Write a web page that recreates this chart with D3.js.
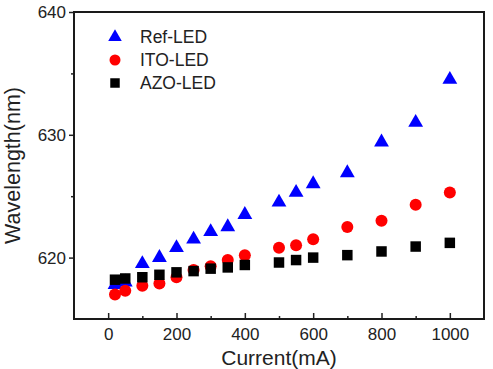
<!DOCTYPE html>
<html>
<head>
<meta charset="utf-8">
<script src="https://cdn.jsdelivr.net/npm/d3@7"></script>
<style>
  body { margin: 0; background: #fff; }
  text { font-family: "Liberation Sans", Arial, sans-serif; fill: #222; }
</style>
</head>
<body>
<svg id="canvas" width="493" height="369"></svg>
<script>
let current = [20, 50, 100, 150, 200, 250, 300, 350, 400, 500, 550, 600, 700, 800, 900, 1000]
let refLED = [617.8, 618.0, 619.5, 620.0, 620.8, 621.5, 622.1, 622.5, 623.5, 624.5, 625.3, 626.0, 626.9, 629.4, 631.0, 634.5]
let itoLED = [617.0, 617.3, 617.7, 617.9, 618.4, 619.0, 619.3, 619.8, 620.2, 620.8, 621.0, 621.5, 622.5, 623.0, 624.3, 625.3]
let azoLED = [618.2, 618.3, 618.4, 618.6, 618.8, 618.9, 619.1, 619.2, 619.4, 619.6, 619.8, 620.0, 620.2, 620.5, 620.9, 621.2]
let xTicks = [0, 200, 400, 600, 800, 1000]
let xMinor = [100, 300, 500, 700, 900]
let yTicks = [620, 630, 640]
let yMinor = [625, 635]
let seriesNames = ['Ref-LED', 'ITO-LED', 'AZO-LED']

let canvas = d3.select('#canvas')
let margin = { top: 12, right: 9, bottom: 50, left: 74 },
  width = 493 - margin.left - margin.right,
  height = 369 - margin.top - margin.bottom

let x = d3.scaleLinear().domain([-100, 1100]).range([0, width])
let y = d3.scaleLinear().domain([615, 640]).range([height, 0])

let g = canvas.append('g').attr('transform', 'translate(' + margin.left + ',' + margin.top + ')')

// x axis (ticks inward)
let xAxis = g.append('g').attr('transform', 'translate(0,' + height + ')')
  .call(d3.axisBottom(x).tickValues(xTicks).tickFormat(d3.format('d')).tickSizeInner(-6).tickSizeOuter(0).tickPadding(9))
xAxis.select('.domain').remove()
g.append('g').attr('transform', 'translate(0,' + height + ')')
  .call(d3.axisBottom(x).tickValues(xMinor).tickSize(-3).tickFormat(''))
  .select('.domain').remove()

// y axis (ticks outward)
let yAxis = g.append('g')
  .call(d3.axisLeft(y).tickValues(yTicks).tickSizeInner(5).tickSizeOuter(0).tickPadding(3))
yAxis.select('.domain').remove()
g.append('g')
  .call(d3.axisLeft(y).tickValues(yMinor).tickSize(3).tickFormat(''))
  .select('.domain').remove()

g.selectAll('.tick line').attr('stroke', '#222').attr('stroke-width', 1.5)
g.selectAll('.tick text').style('font-size', '17px').style('font-family', '"Liberation Sans", Arial, sans-serif').attr('fill', '#333')

// frame
g.append('rect').attr('width', width).attr('height', height)
  .attr('fill', 'none').attr('stroke', '#1a1a1a').attr('stroke-width', 2)

// axis titles
canvas.append('text').attr('x', margin.left + x(500)).attr('y', 365)
  .attr('text-anchor', 'middle').style('font-size', '21px').attr('fill', '#333').text('Current(mA)')
canvas.append('text').attr('transform', 'translate(20,' + (margin.top + height / 2) + ') rotate(-90)')
  .attr('text-anchor', 'middle').style('font-size', '21.5px').attr('fill', '#333').text('Wavelength(nm)')

let tri = d3.symbol().type(d3.symbolTriangle).size(95)
let sq = d3.symbol().type(d3.symbolSquare).size(110)

// data points
g.selectAll('.ref').data(current).enter().append('path')
  .attr('d', tri).attr('fill', '#0000ff')
  .attr('transform', (d, i) => 'translate(' + x(d) + ',' + y(refLED[i]) + ')')
g.selectAll('.ito').data(current).enter().append('circle')
  .attr('cx', d => x(d)).attr('cy', (d, i) => y(itoLED[i])).attr('r', 6).attr('fill', '#ff0000')
g.selectAll('.azo').data(current).enter().append('path')
  .attr('d', sq).attr('fill', '#000')
  .attr('transform', (d, i) => 'translate(' + x(d) + ',' + y(azoLED[i]) + ')')

// legend
let legend = canvas.append('g')
let ly = [37, 60, 83]
legend.append('path').attr('d', d3.symbol().type(d3.symbolTriangle).size(80)).attr('fill', '#0000ff').attr('transform', 'translate(115,' + ly[0] + ')')
legend.append('circle').attr('cx', 115).attr('cy', ly[1]).attr('r', 5.5).attr('fill', '#ff0000')
legend.append('path').attr('d', d3.symbol().type(d3.symbolSquare).size(90)).attr('fill', '#000').attr('transform', 'translate(115,' + ly[2] + ')')
seriesNames.forEach((name, i) => {
  legend.append('text').attr('x', 140).attr('y', ly[i] + 6).style('font-size', '17.5px').attr('fill', '#333').text(name)
})
</script>
</body>
</html>
